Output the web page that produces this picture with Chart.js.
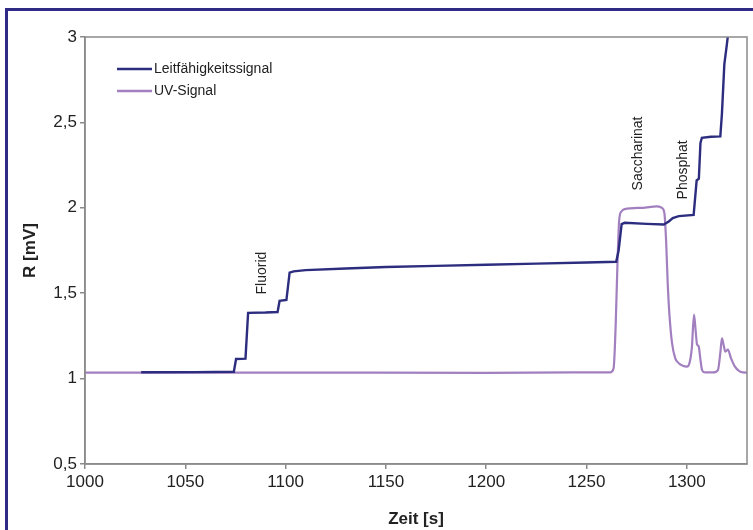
<!DOCTYPE html>
<html>
<head>
<meta charset="utf-8">
<script src="https://cdn.jsdelivr.net/npm/chart.js@4.4.1/dist/chart.umd.min.js"></script>
<style>
  html,body{margin:0;padding:0;background:#fff;overflow:hidden;}
  #wrap{position:relative;width:753px;height:530px;}
  #frame{position:absolute;left:5px;top:8px;width:820px;height:620px;border:3px solid #2e2a85;pointer-events:none;}
  canvas{position:absolute;left:0;top:0;}
</style>
</head>
<body>
<div id="wrap">
  <canvas id="c" width="753" height="530"></canvas>
  <div id="frame"></div>
</div>
<script>
/* Daten */
const leitTime  = [1028,1055,1074.2,1075.3,1080,1081.3,1090,1096,1097,1100.4,1102,1104,1110,1130,1150,1175,1200,1225,1250,1264.8,1266,1267.5,1269,1280,1288.5,1291,1293,1296,1303.4,1304.9,1306,1306.8,1307.5,1312,1316.7,1317.5,1318.7,1320,1320.8,1322];
const leitValue = [1.037,1.038,1.04,1.115,1.117,1.385,1.387,1.39,1.455,1.46,1.62,1.628,1.635,1.645,1.653,1.66,1.667,1.673,1.68,1.684,1.75,1.905,1.912,1.906,1.902,1.92,1.94,1.951,1.958,2.16,2.17,2.38,2.41,2.416,2.418,2.55,2.84,2.96,3.04,3.12];

const uvTime  = [1000,1100,1200,1262,1263.5,1264.5,1265.5,1266.3,1267.5,1269,1278,1285,1287.5,1288.8,1289.7,1290.5,1291.3,1292.6,1294.2,1296,1298,1300,1301.3,1302.5,1303.6,1304.4,1305.1,1305.9,1306.7,1307.6,1309,1313,1315.5,1316.7,1317.5,1318.3,1319.2,1320.5,1322,1324,1326,1328,1330];
const uvValue = [1.035,1.035,1.034,1.037,1.06,1.3,1.7,1.93,1.98,1.992,2.0,2.008,2.0,1.97,1.8,1.55,1.38,1.21,1.12,1.09,1.075,1.07,1.09,1.18,1.375,1.28,1.2,1.19,1.12,1.05,1.037,1.036,1.05,1.15,1.235,1.2,1.158,1.17,1.12,1.07,1.045,1.036,1.035];

const seriesNames = ["Leitfähigkeitssignal","UV-Signal"];
const seriesColors = ["#2c2d7e","#a27fbf"];

const xTicksMin = 1000, xTicksMax = 1330, xStep = 50;
const yTicksMin = 0.5, yTicksMax = 3, yStep = 0.5;

const annoLabels = ["Fluorid","Saccharinat","Phosphat"];
const annoX = [1088.4,1275.5,1298.2];
const annoY = [1.618,2.318,2.222];

const FONT = "'Liberation Sans', Arial, sans-serif";
const AXIS = "#8a8a8a";

// Rahmen + Legende + Beschriftungen
const extras = {
  id:"extras",
  afterDatasetsDraw(chart){
    const c = chart.ctx, a = chart.chartArea;
    const xs = chart.scales.x, ys = chart.scales.y;
    c.save();
    c.strokeStyle = AXIS; c.lineWidth = 1.5;
    c.strokeRect(a.left, a.top, a.right - a.left, a.bottom - a.top);

    // legende
    c.font = "14px " + FONT;
    c.textBaseline = "middle"; c.textAlign = "left";
    seriesNames.forEach((n,i)=>{
      const y = 69 + i*22;
      c.strokeStyle = seriesColors[i]; c.lineWidth = 2.3;
      c.beginPath(); c.moveTo(117,y); c.lineTo(152,y); c.stroke();
      c.fillStyle = "#222";
      c.fillText(n, 154, y);
    });

    // rotierte Beschriftungen
    c.textAlign = "center";
    annoLabels.forEach((t,i)=>{
      c.save();
      c.translate(xs.getPixelForValue(annoX[i]), ys.getPixelForValue(annoY[i]));
      c.rotate(-Math.PI/2);
      c.fillStyle = "#222";
      c.fillText(t, 0, 0);
      c.restore();
    });
    c.restore();
  }
};

const ctx = document.getElementById("c").getContext("2d");
new Chart(ctx,{
  type:"line",
  data:{
    datasets:[
      {label:seriesNames[0], data:leitTime.map((t,i)=>({x:t,y:leitValue[i]})),
       borderColor:seriesColors[0], borderWidth:2.4, pointRadius:0, tension:0},
      {label:seriesNames[1], data:uvTime.map((t,i)=>({x:t,y:uvValue[i]})),
       borderColor:seriesColors[1], borderWidth:2.2, pointRadius:0, cubicInterpolationMode:"monotone"}
    ]
  },
  options:{
    responsive:false, animation:false, devicePixelRatio:1,
    layout:{padding:{top:37,right:6,left:0,bottom:0}},
    plugins:{legend:{display:false}, tooltip:{enabled:false}},
    scales:{
      x:{
        type:"linear", min:xTicksMin, max:xTicksMax,
        afterFit(s){ s.height = 66; },
        ticks:{stepSize:xStep, includeBounds:false, padding:3, color:"#222", font:{family:FONT,size:17},
               callback:v=>String(v)},
        grid:{drawOnChartArea:false, drawTicks:true, tickLength:5, color:AXIS, lineWidth:1.5},
        border:{color:AXIS, width:1.5},
        title:{display:true, text:"Zeit [s]", color:"#222", font:{family:FONT,size:17,weight:"bold"}, padding:{top:0,bottom:0}}
      },
      y:{
        min:yTicksMin, max:yTicksMax,
        afterFit(s){ s.width = 85; },
        ticks:{stepSize:yStep, padding:3, color:"#222", font:{family:FONT,size:17},
               callback:v=>String(v).replace(".",",")},
        grid:{drawOnChartArea:false, drawTicks:true, tickLength:5, color:AXIS, lineWidth:1.5},
        border:{color:AXIS, width:1.5},
        title:{display:true, text:"R [mV]", color:"#222", font:{family:FONT,size:17,weight:"bold"}, padding:{top:20,bottom:0}}
      }
    }
  },
  plugins:[extras]
});
</script>
</body>
</html>
